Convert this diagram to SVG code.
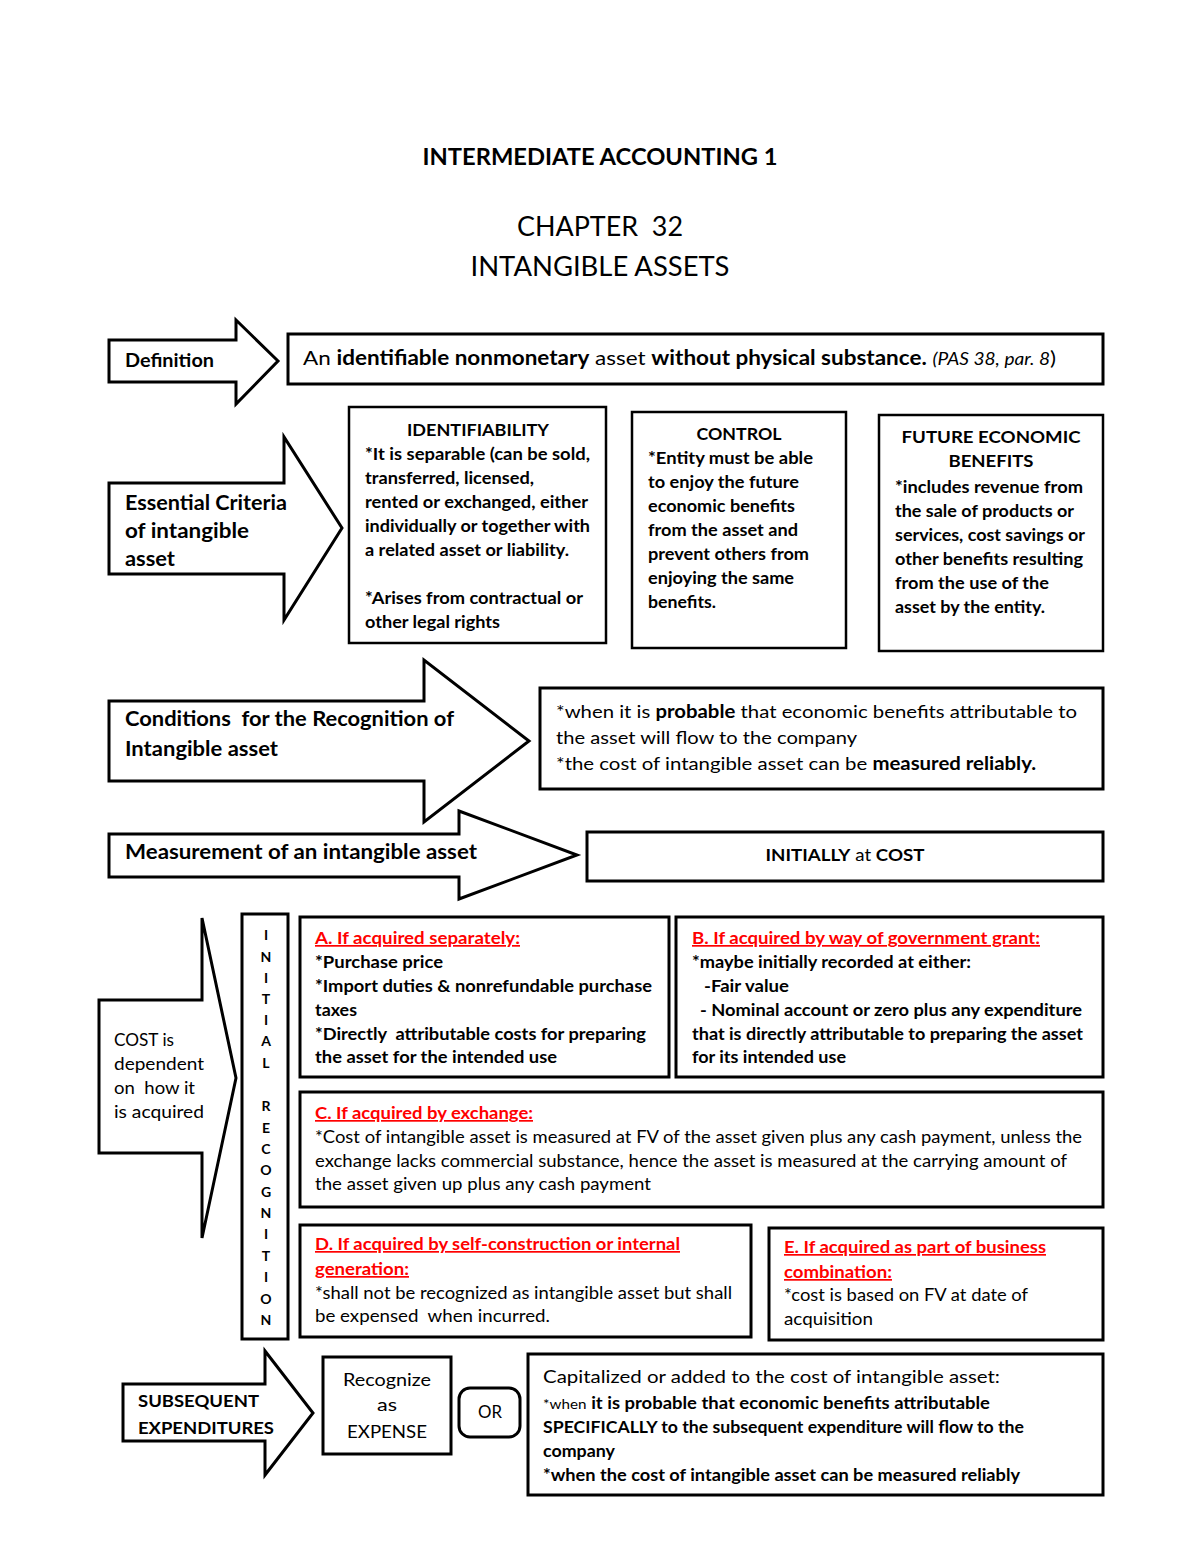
<svg xmlns="http://www.w3.org/2000/svg" width="1200" height="1553" viewBox="0 0 1200 1553">
<style>
.bg{fill:#fff}
.box{fill:#fff;stroke:#000;stroke-width:3}
.box2{fill:#fff;stroke:#000;stroke-width:2.5}
.arr{fill:#fff;stroke:#000;stroke-width:3;stroke-linejoin:miter}
text{font-family:Lato,"Open Sans","Liberation Sans",sans-serif;fill:#000}
.t{font-size:17px}
.b{font-weight:bold}
.red{fill:#f00;font-weight:bold;text-decoration:underline}
.v{font-size:14px;font-weight:bold;text-anchor:middle}
.c{text-anchor:middle}
</style>
<rect class="bg" x="0" y="0" width="1200" height="1553"/>

<g id="title">
<text x="600" y="165" class="c b" font-size="23" textLength="355" lengthAdjust="spacingAndGlyphs">INTERMEDIATE ACCOUNTING 1</text>
<text x="600" y="236" class="c" font-size="26" textLength="166" lengthAdjust="spacingAndGlyphs" xml:space="preserve">CHAPTER  32</text>
<text x="600" y="276" class="c" font-size="26" textLength="259" lengthAdjust="spacingAndGlyphs">INTANGIBLE ASSETS</text>
</g>

<g id="connectors"></g>

<g id="definition-arrow">
<polygon class="arr" points="109,340 236,340 236,320 278,361 236,404 236,382 109,382"/>
<text x="125" y="367" class="b" font-size="18" textLength="89" lengthAdjust="spacingAndGlyphs">Definition</text>
</g>
<g id="definition-box">
<rect class="box" x="288" y="334" width="815" height="50"/>
<text x="303" y="365" font-size="20" textLength="753" lengthAdjust="spacingAndGlyphs">An <tspan class="b">identifiable nonmonetary</tspan> asset <tspan class="b">without physical substance.</tspan> <tspan font-style="italic" font-size="17">(PAS 38, par. 8</tspan>)</text>
</g>

<g id="criteria-arrow">
<polygon class="arr" points="109,483 284,483 284,437 342,528 284,620 284,574 109,574"/>
<text x="125" y="510" class="b" font-size="21" textLength="162" lengthAdjust="spacingAndGlyphs">Essential Criteria</text>
<text x="125" y="538" class="b" font-size="21" textLength="124" lengthAdjust="spacingAndGlyphs">of intangible</text>
<text x="125" y="566" class="b" font-size="21" textLength="50" lengthAdjust="spacingAndGlyphs">asset</text>
</g>

<g id="identifiability">
<rect class="box2" x="349" y="407" width="257" height="236"/>
<text x="478" y="436" class="t b c" textLength="142" lengthAdjust="spacingAndGlyphs">IDENTIFIABILITY</text>
<text x="365" y="460" class="t b" textLength="225" lengthAdjust="spacingAndGlyphs">*It is separable (can be sold,</text>
<text x="365" y="484" class="t b" textLength="169" lengthAdjust="spacingAndGlyphs">transferred, licensed,</text>
<text x="365" y="508" class="t b" textLength="223" lengthAdjust="spacingAndGlyphs">rented or exchanged, either</text>
<text x="365" y="532" class="t b" textLength="225" lengthAdjust="spacingAndGlyphs">individually or together with</text>
<text x="365" y="556" class="t b" textLength="204" lengthAdjust="spacingAndGlyphs">a related asset or liability.</text>
<text x="365" y="604" class="t b" textLength="218" lengthAdjust="spacingAndGlyphs">*Arises from contractual or</text>
<text x="365" y="628" class="t b" textLength="135" lengthAdjust="spacingAndGlyphs">other legal rights</text>
</g>

<g id="control">
<rect class="box2" x="632" y="412" width="214" height="236"/>
<text x="739" y="440" class="t b c" textLength="85" lengthAdjust="spacingAndGlyphs">CONTROL</text>
<text x="648" y="464" class="t b" textLength="165" lengthAdjust="spacingAndGlyphs">*Entity must be able</text>
<text x="648" y="488" class="t b" textLength="151" lengthAdjust="spacingAndGlyphs">to enjoy the future</text>
<text x="648" y="512" class="t b" textLength="147" lengthAdjust="spacingAndGlyphs">economic benefits</text>
<text x="648" y="536" class="t b" textLength="150" lengthAdjust="spacingAndGlyphs">from the asset and</text>
<text x="648" y="560" class="t b" textLength="161" lengthAdjust="spacingAndGlyphs">prevent others from</text>
<text x="648" y="584" class="t b" textLength="146" lengthAdjust="spacingAndGlyphs">enjoying the same</text>
<text x="648" y="608" class="t b" textLength="68" lengthAdjust="spacingAndGlyphs">benefits.</text>
</g>

<g id="future-benefits">
<rect class="box2" x="879" y="415" width="224" height="236"/>
<text x="991" y="443" class="t b c" textLength="179" lengthAdjust="spacingAndGlyphs">FUTURE ECONOMIC</text>
<text x="991" y="467" class="t b c" textLength="85" lengthAdjust="spacingAndGlyphs">BENEFITS</text>
<text x="895" y="493" class="t b" textLength="188" lengthAdjust="spacingAndGlyphs">*includes revenue from</text>
<text x="895" y="517" class="t b" textLength="179" lengthAdjust="spacingAndGlyphs">the sale of products or</text>
<text x="895" y="541" class="t b" textLength="190" lengthAdjust="spacingAndGlyphs">services, cost savings or</text>
<text x="895" y="565" class="t b" textLength="188" lengthAdjust="spacingAndGlyphs">other benefits resulting</text>
<text x="895" y="589" class="t b" textLength="154" lengthAdjust="spacingAndGlyphs">from the use of the</text>
<text x="895" y="613" class="t b" textLength="150" lengthAdjust="spacingAndGlyphs">asset by the entity.</text>
</g>

<g id="conditions-arrow">
<polygon class="arr" points="109,701 424,701 424,660 529,741 424,822 424,781 109,781"/>
<text x="125" y="726" class="b" font-size="21" textLength="329" lengthAdjust="spacingAndGlyphs" xml:space="preserve">Conditions  for the Recognition of</text>
<text x="125" y="756" class="b" font-size="21" textLength="153" lengthAdjust="spacingAndGlyphs">Intangible asset</text>
</g>
<g id="conditions-box">
<rect class="box" x="540" y="688" width="563" height="101"/>
<text x="556" y="718" font-size="18" textLength="521" lengthAdjust="spacingAndGlyphs">*when it is <tspan class="b">probable</tspan> that economic benefits attributable to</text>
<text x="556" y="744" font-size="18" textLength="301" lengthAdjust="spacingAndGlyphs">the asset will flow to the company</text>
<text x="556" y="770" font-size="18" textLength="480" lengthAdjust="spacingAndGlyphs">*the cost of intangible asset can be <tspan class="b">measured reliably.</tspan></text>
</g>

<g id="measurement-arrow">
<polygon class="arr" points="109,834 459,834 459,811 577,855 459,899 459,877 109,877"/>
<text x="125" y="859" class="b" font-size="20" textLength="352" lengthAdjust="spacingAndGlyphs">Measurement of an intangible asset</text>
</g>
<g id="initially-box">
<rect class="box" x="587" y="832" width="516" height="49"/>
<text x="845" y="861" class="c" font-size="17" textLength="159" lengthAdjust="spacingAndGlyphs"><tspan class="b">INITIALLY</tspan> at <tspan class="b">COST</tspan></text>
</g>

<g id="cost-arrow">
<polygon class="arr" points="99,1000 202,1000 202,918 236,1078 202,1238 202,1153 99,1153"/>
<text x="114" y="1046" font-size="18" textLength="60" lengthAdjust="spacingAndGlyphs">COST is</text>
<text x="114" y="1070" font-size="18" textLength="90" lengthAdjust="spacingAndGlyphs">dependent</text>
<text x="114" y="1094" font-size="18" textLength="81" lengthAdjust="spacingAndGlyphs" xml:space="preserve">on  how it</text>
<text x="114" y="1118" font-size="18" textLength="90" lengthAdjust="spacingAndGlyphs">is acquired</text>
</g>

<g id="initial-recognition">
<rect class="box" x="242" y="914" width="46" height="425"/>
<text x="266" y="940" class="v">I</text>
<text x="266" y="962" class="v">N</text>
<text x="266" y="983" class="v">I</text>
<text x="266" y="1004" class="v">T</text>
<text x="266" y="1025" class="v">I</text>
<text x="266" y="1046" class="v">A</text>
<text x="266" y="1068" class="v">L</text>
<text x="266" y="1111" class="v">R</text>
<text x="266" y="1133" class="v">E</text>
<text x="266" y="1154" class="v">C</text>
<text x="266" y="1175" class="v">O</text>
<text x="266" y="1197" class="v">G</text>
<text x="266" y="1218" class="v">N</text>
<text x="266" y="1239" class="v">I</text>
<text x="266" y="1261" class="v">T</text>
<text x="266" y="1282" class="v">I</text>
<text x="266" y="1304" class="v">O</text>
<text x="266" y="1325" class="v">N</text>
</g>

<g id="box-a">
<rect class="box" x="300" y="917" width="369" height="160"/>
<text x="315" y="944" class="t red" textLength="205" lengthAdjust="spacingAndGlyphs">A. If acquired separately:</text>
<text x="315" y="968" class="t b" textLength="128" lengthAdjust="spacingAndGlyphs">*Purchase price</text>
<text x="315" y="992" class="t b" textLength="337" lengthAdjust="spacingAndGlyphs">*Import duties &amp; nonrefundable purchase</text>
<text x="315" y="1016" class="t b" textLength="42" lengthAdjust="spacingAndGlyphs">taxes</text>
<text x="315" y="1040" class="t b" textLength="331" lengthAdjust="spacingAndGlyphs" xml:space="preserve">*Directly  attributable costs for preparing</text>
<text x="315" y="1063" class="t b" textLength="242" lengthAdjust="spacingAndGlyphs">the asset for the intended use</text>
</g>

<g id="box-b">
<rect class="box" x="676" y="917" width="427" height="160"/>
<text x="692" y="944" class="t red" textLength="348" lengthAdjust="spacingAndGlyphs">B. If acquired by way of government grant:</text>
<text x="692" y="968" class="t b" textLength="279" lengthAdjust="spacingAndGlyphs">*maybe initially recorded at either:</text>
<text x="704" y="992" class="t b" textLength="85" lengthAdjust="spacingAndGlyphs">-Fair value</text>
<text x="700" y="1016" class="t b" textLength="382" lengthAdjust="spacingAndGlyphs">- Nominal account or zero plus any expenditure</text>
<text x="692" y="1040" class="t b" textLength="391" lengthAdjust="spacingAndGlyphs">that is directly attributable to preparing the asset</text>
<text x="692" y="1063" class="t b" textLength="154" lengthAdjust="spacingAndGlyphs">for its intended use</text>
</g>

<g id="box-c">
<rect class="box" x="300" y="1092" width="803" height="115"/>
<text x="315" y="1119" class="t red" textLength="218" lengthAdjust="spacingAndGlyphs">C. If acquired by exchange:</text>
<text x="315" y="1143" class="t" textLength="767" lengthAdjust="spacingAndGlyphs">*Cost of intangible asset is measured at FV of the asset given plus any cash payment, unless the</text>
<text x="315" y="1167" class="t" textLength="752" lengthAdjust="spacingAndGlyphs">exchange lacks commercial substance, hence the asset is measured at the carrying amount of</text>
<text x="315" y="1190" class="t" textLength="336" lengthAdjust="spacingAndGlyphs">the asset given up plus any cash payment</text>
</g>

<g id="box-d">
<rect class="box" x="300" y="1225" width="451" height="112"/>
<text x="315" y="1250" class="t red" textLength="365" lengthAdjust="spacingAndGlyphs">D. If acquired by self-construction or internal</text>
<text x="315" y="1275" class="t red" textLength="94" lengthAdjust="spacingAndGlyphs">generation:</text>
<text x="315" y="1299" class="t" textLength="417" lengthAdjust="spacingAndGlyphs">*shall not be recognized as intangible asset but shall</text>
<text x="315" y="1322" class="t" textLength="235" lengthAdjust="spacingAndGlyphs" xml:space="preserve">be expensed  when incurred.</text>
</g>

<g id="box-e">
<rect class="box" x="769" y="1228" width="334" height="112"/>
<text x="784" y="1253" class="t red" textLength="262" lengthAdjust="spacingAndGlyphs">E. If acquired as part of business</text>
<text x="784" y="1278" class="t red" textLength="108" lengthAdjust="spacingAndGlyphs">combination:</text>
<text x="784" y="1301" class="t" textLength="244" lengthAdjust="spacingAndGlyphs">*cost is based on FV at date of</text>
<text x="784" y="1325" class="t" textLength="89" lengthAdjust="spacingAndGlyphs">acquisition</text>
</g>

<g id="subsequent-arrow">
<polygon class="arr" points="123,1384 265,1384 265,1351 313,1413 265,1475 265,1441 123,1441"/>
<text x="138" y="1407" class="t b" textLength="121" lengthAdjust="spacingAndGlyphs">SUBSEQUENT</text>
<text x="138" y="1434" class="t b" textLength="136" lengthAdjust="spacingAndGlyphs">EXPENDITURES</text>
</g>

<g id="expense-box">
<rect class="box" x="323" y="1357" width="128" height="97"/>
<text x="387" y="1386" class="c" font-size="18" textLength="88" lengthAdjust="spacingAndGlyphs">Recognize</text>
<text x="387" y="1411" class="c" font-size="18" textLength="20" lengthAdjust="spacingAndGlyphs">as</text>
<text x="387" y="1438" class="c" font-size="18" textLength="80" lengthAdjust="spacingAndGlyphs">EXPENSE</text>
</g>

<g id="or-box">
<rect class="box" x="459" y="1388" width="61" height="49" rx="11" ry="11"/>
<text x="490" y="1418" class="c" font-size="17" textLength="24" lengthAdjust="spacingAndGlyphs">OR</text>
</g>

<g id="capitalized-box">
<rect class="box" x="528" y="1354" width="575" height="141"/>
<text x="543" y="1383" font-size="18" textLength="457" lengthAdjust="spacingAndGlyphs">Capitalized or added to the cost of intangible asset:</text>
<text x="543" y="1409" font-size="17" textLength="447" lengthAdjust="spacingAndGlyphs"><tspan font-size="14">*when</tspan> <tspan class="b">it is probable that economic benefits attributable</tspan></text>
<text x="543" y="1433" class="t b" textLength="481" lengthAdjust="spacingAndGlyphs">SPECIFICALLY to the subsequent expenditure will flow to the</text>
<text x="543" y="1457" class="t b" textLength="72" lengthAdjust="spacingAndGlyphs">company</text>
<text x="543" y="1481" class="t b" textLength="477" lengthAdjust="spacingAndGlyphs">*when the cost of intangible asset can be measured reliably</text>
</g>
</svg>
